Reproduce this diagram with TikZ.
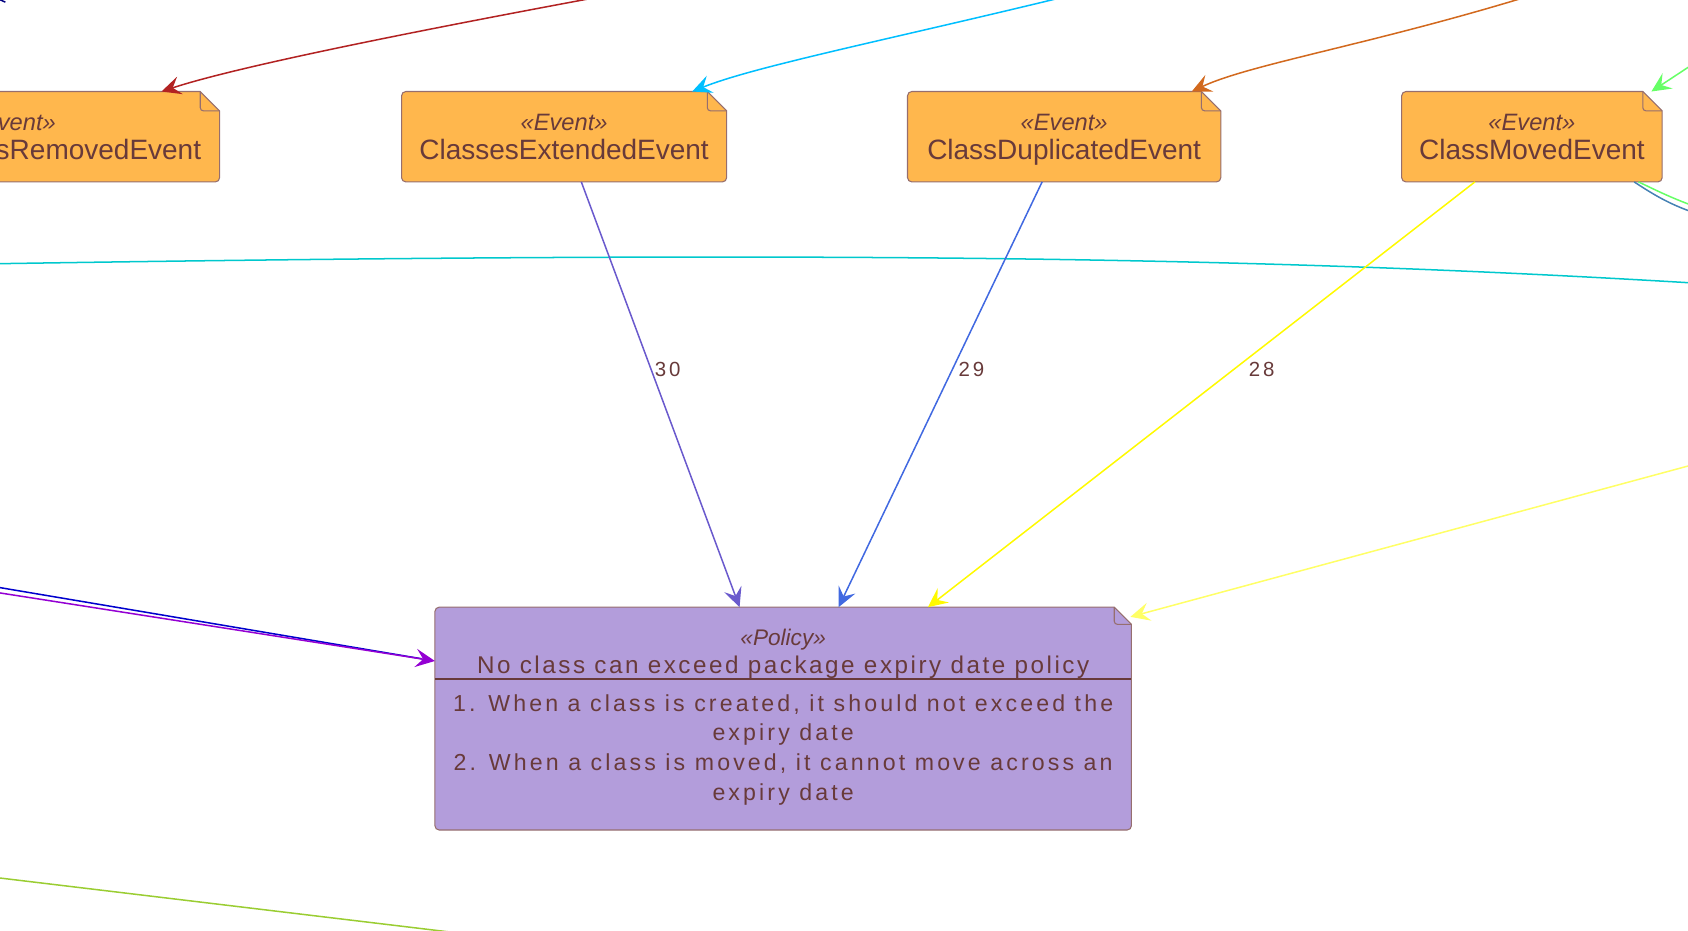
\documentclass[tikz,border=0pt]{standalone}
\usepackage{fontspec}
\setmainfont{Liberation Sans}
\newfontfamily\spacedA[LetterSpace=10.5]{Liberation Sans}
\newfontfamily\spacedB[LetterSpace=14]{Liberation Sans}
\newfontfamily\spacedC[LetterSpace=13.5]{Liberation Sans}
\usetikzlibrary{arrows.meta,backgrounds,calc}
\definecolor{evfill}{RGB}{255,183,77}
\definecolor{polfill}{RGB}{179,157,219}
\definecolor{bord}{RGB}{150,110,110}
\definecolor{txt}{RGB}{104,58,58}
\definecolor{cRed}{RGB}{178,34,34}
\definecolor{cSky}{RGB}{0,191,255}
\definecolor{cChoc}{RGB}{210,105,30}
\definecolor{cLGreen}{RGB}{102,255,102}
\definecolor{cSteel}{RGB}{70,130,180}
\definecolor{cTurq}{RGB}{0,200,205}
\definecolor{cSlate}{RGB}{106,90,205}
\definecolor{cRoyal}{RGB}{65,105,225}
\definecolor{cYellow}{RGB}{255,250,0}
\definecolor{cLYellow}{RGB}{255,255,102}
\definecolor{cViolet}{RGB}{148,0,211}
\definecolor{cMBlue}{RGB}{0,0,205}
\definecolor{cYGreen}{RGB}{154,205,50}
\definecolor{cNavy}{RGB}{0,0,128}
\newcommand\noteshape[3]{%
  \filldraw[draw=bord, line width=1pt, fill=#3]
    (#1.north) -- ([xshift=-#2pt]#1.north east) -- ([yshift=-#2pt]#1.north east)
    [rounded corners=4pt] -- (#1.south east) -- (#1.south west) -- (#1.north west) -- cycle;
  \draw[bord, line width=1pt, rounded corners=3pt]
    ([xshift=-#2pt]#1.north east) -- ([xshift=-#2pt,yshift=-#2pt]#1.north east) -- ([yshift=-#2pt]#1.north east);
}
\begin{document}
\begin{tikzpicture}[x=1pt,y=-1pt,
  evbox/.style={minimum height=84pt, inner sep=0pt, outer sep=0pt},
  stereo/.style={anchor=base, text=txt, font=\fontsize{22}{22}\selectfont\itshape, inner sep=0pt},
  evname/.style={anchor=base, text=txt, font=\fontsize{26}{26}\selectfont, inner sep=0pt},
  arr/.style={-{Stealth[length=18pt,width=17pt,inset=7pt]}, line width=1.4pt},
  plainln/.style={line width=1.4pt},
  lbl/.style={text=txt, font=\fontsize{19}{19}\selectfont\spacedB, inner sep=0pt}
]
\clip (0,0) rectangle (1568,864);

% ---- nodes ----
\node[evbox, minimum width=304pt] (rem) at (52,127) {};
\node[evbox, minimum width=302pt] (ext) at (524,127) {};
\node[evbox, minimum width=291pt] (dup) at (988.5,127) {};
\node[evbox, minimum width=242pt] (mov) at (1423,127) {};
\node[minimum width=647pt, minimum height=207pt, inner sep=0pt, outer sep=0pt] (pol) at (727.5,667.5) {};

\noteshape{rem}{18}{evfill}
\noteshape{ext}{18}{evfill}
\noteshape{dup}{18}{evfill}
\noteshape{mov}{18}{evfill}
\noteshape{pol}{16}{polfill}

\node[stereo, anchor=base east] (remst) at ($(rem.center)+(0,-6)$) {vent»};
\node[evname, anchor=base east] (remnm) at ($(rem.center)+(135,21)$) {sRemovedEvent};
\node[stereo] (extst) at ($(ext.center)+(0,-6)$) {«Event»};
\node[evname] (extnm) at ($(ext.center)+(0,21)$) {ClassesExtendedEvent};
\node[stereo] (dupst) at ($(dup.center)+(0,-6)$) {«Event»};
\node[evname] (dupnm) at ($(dup.center)+(0,21)$) {ClassDuplicatedEvent};
\node[stereo] (movst) at ($(mov.center)+(0,-6)$) {«Event»};
\node[evname] (movnm) at ($(mov.center)+(0,21)$) {ClassMovedEvent};

\node[stereo, font=\fontsize{21}{21}\selectfont\itshape] (polst) at (727.5,600) {«Policy»};
\node[anchor=base, text=txt, inner sep=0pt, font=\fontsize{22.5}{22.5}\selectfont\spacedA] (polnm) at (727.5,626) {No class can exceed package expiry date policy};
\draw[txt, line width=1.6pt] ([yshift=-67pt]pol.north west) -- ([yshift=-67pt]pol.north east);
\node[anchor=north, text=txt, inner sep=0pt, align=center, font=\fontsize{21.5}{27.5}\selectfont\spacedC] (polbody) at (727.5,645)
  {1. When a class is created, it should not exceed the\\ expiry date\\ 2. When a class is moved, it cannot move across an\\ expiry date};

% ---- free ends ----
\coordinate (redS) at (552,-2);
\coordinate (skyS) at (985,-2);
\coordinate (chocS) at (1415,-2);
\coordinate (lgS) at (1575,58);
\coordinate (lgE) at (1575,192);
\coordinate (stE) at (1575,198);
\coordinate (turqA) at (-5,245);
\coordinate (turqB) at (1575,263);
\coordinate (lyS) at (1575,431);
\coordinate (vioS) at (-5,550);
\coordinate (mbS) at (-5,545);
\coordinate (ygA) at (-5,815);
\coordinate (ygB) at (420,866);
\coordinate (nvA) at (-4,-2);
\coordinate (nvB) at (5,2);

% ---- connectors ----
\draw[cNavy, plainln] (nvA) -- (nvB);
\draw[cRed, arr] (redS) .. controls (380,30) and (220,62) .. ([xshift=-54pt]rem.north east);
\draw[cSky, arr] (skyS) .. controls (820,38) and (700,62) .. ([xshift=-32pt]ext.north east);
\draw[cChoc, arr] (chocS) .. controls (1270,42) and (1160,60) .. ([xshift=-27pt]dup.north east);
\draw[cLGreen, arr] (lgS) -- ([xshift=-10pt]mov.north east);
\draw[cLGreen, plainln] ([xshift=-22pt]mov.south east) .. controls (1535,175) and (1550,183) .. (lgE);
\draw[cSteel, plainln] ([xshift=-26pt]mov.south east) .. controls (1532,178) and (1548,189) .. (stE);
\draw[cTurq, plainln] (turqA) .. controls (760,233) and (1160,238) .. (turqB);
\draw[cSlate, arr] ([xshift=16pt]ext.south) -- node[lbl, pos=0.44, anchor=west, xshift=3pt] (l30) {30} ([xshift=-40.5pt]pol.north);
\draw[cRoyal, arr] ([xshift=-20.5pt]dup.south) -- node[lbl, pos=0.44, anchor=west, xshift=5pt] (l29) {29} ([xshift=51.5pt]pol.north);
\draw[cYellow, arr] ([xshift=-53pt]mov.south) -- node[lbl, pos=0.44, anchor=west, xshift=13pt] (l28) {28} ([xshift=134.5pt]pol.north);
\draw[cLYellow, arr] (lyS) -- ([xshift=-1pt,yshift=-9pt]pol.north east);
\draw[cMBlue, plainln] (mbS) -- ([xshift=-12pt,yshift=-48pt]pol.north west);
\draw[cViolet, arr] (vioS) -- ([yshift=-50pt]pol.north west);
\draw[cYGreen, plainln] (ygA) -- (ygB);
\end{tikzpicture}
\end{document}
